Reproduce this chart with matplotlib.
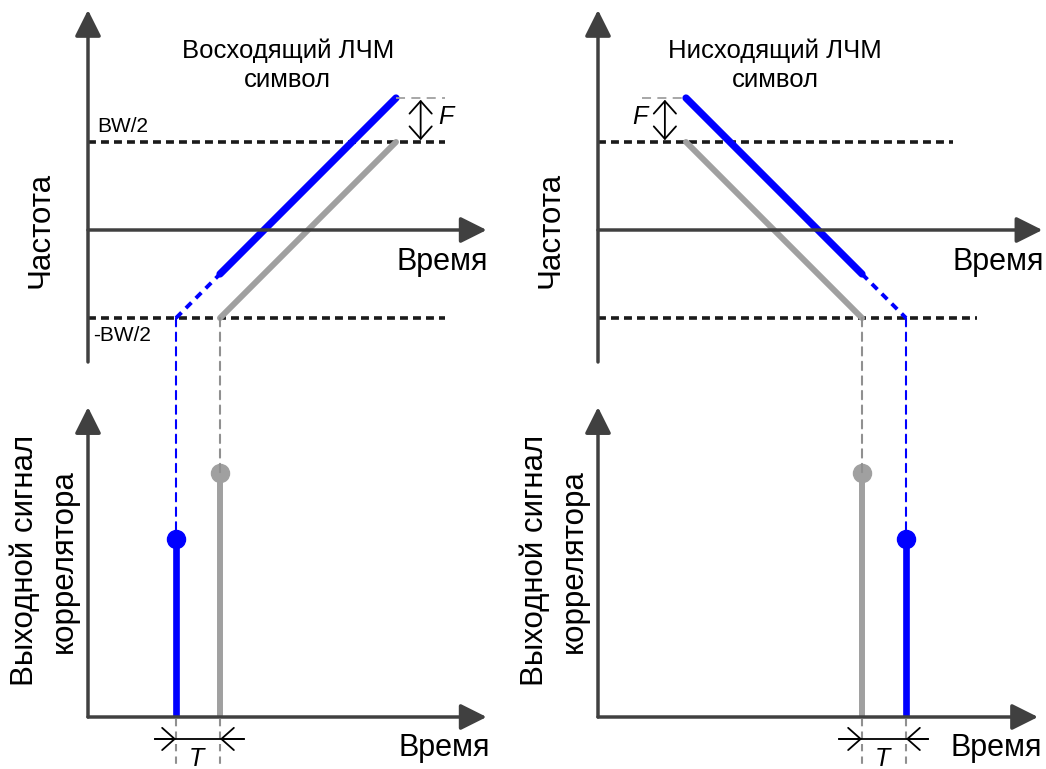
import numpy as np
import matplotlib
matplotlib.use('Agg')
import matplotlib.pyplot as plt
from matplotlib.patches import ConnectionPatch

plt.rcParams['font.family'] = ['Liberation Sans', 'DejaVu Sans']

# --- chirp parameters (time and frequency in the same units) ---
bw_half = 1.0          # BW/2
f_shift = 0.5          # frequency offset F
t_shift = 0.5          # resulting time offset T

# up-chirp: reference (gray) and received with offset (blue)
up_ref_t = [1.5, 3.5]
up_ref_f = [-1.0, 1.0]
up_rx_t = [1.5, 3.5]
up_rx_f = [-0.5, 1.5]
up_ext_t = [1.0, 1.5]          # dashed extension of the received chirp
up_ext_f = [-1.0, -0.5]

# down-chirp
dn_ref_t = [1.0, 3.0]
dn_ref_f = [1.0, -1.0]
dn_rx_t = [1.0, 3.0]
dn_rx_f = [1.5, -0.5]
dn_ext_t = [3.0, 3.5]
dn_ext_f = [-0.5, -1.0]

# correlator output peaks
up_peak_t = [1.0, 1.5]
up_peak_v = [0.73, 1.0]
dn_peak_t = [3.0, 3.5]
dn_peak_v = [1.0, 0.73]

BLUE = '#0000ff'
GRAY = '#a0a0a0'
AX = '#404040'

W, H = 1046, 769
PX = 88    # pixels per time / frequency unit
PK = 244   # pixels per correlator output unit

fig = plt.figure(figsize=(W / 100, H / 100), dpi=100)


def make_axes(x0, y0, sx, sy, xlim, ylim):
    left = x0 + xlim[0] * sx
    right = x0 + xlim[1] * sx
    top = y0 - ylim[1] * sy
    bottom = y0 - ylim[0] * sy
    ax = fig.add_axes([left / W, 1 - bottom / H, (right - left) / W, (bottom - top) / H])
    ax.set_xlim(xlim)
    ax.set_ylim(ylim)
    ax.axis('off')
    return ax


def axis_arrow(ax, start, tip):
    ax.annotate('', xy=tip, xytext=start,
                arrowprops=dict(arrowstyle='-|>,head_length=0.8,head_width=0.4',
                                mutation_scale=20, lw=2.5, color=AX,
                                shrinkA=0, shrinkB=0))


def dim_arrow(ax, start, tip, style='->'):
    ax.annotate('', xy=tip, xytext=start,
                arrowprops=dict(arrowstyle=style + ',head_length=0.45,head_width=0.4',
                                mutation_scale=20, lw=1.3, color='black',
                                shrinkA=0, shrinkB=0))


def freq_panel(x0, xmax, title, title_x, ref, rx, ext, bw_ends, f_x, f_line, f_label_x):
    ax = make_axes(x0, 230, PX, PX, (-0.7, xmax + 0.05), (-1.55, 2.6))
    # BW/2 levels
    ax.plot([0, bw_ends[0]], [bw_half, bw_half], color='#1a1a1a', lw=2.6,
            linestyle=(0, (2.2, 1.4)))
    ax.plot([0, bw_ends[1]], [-bw_half, -bw_half], color='#1a1a1a', lw=2.6,
            linestyle=(0, (2.2, 1.4)))
    # axes
    axis_arrow(ax, (0, -1.5), (0, 2.5))
    axis_arrow(ax, (0, 0), (xmax, 0))
    # chirps
    ax.plot(ref[0], ref[1], color=GRAY, lw=4.3, solid_capstyle='round')
    ax.plot(rx[0], rx[1], color=BLUE, lw=5.2, solid_capstyle='round')
    ax.plot(ext[0], ext[1], color=BLUE, lw=2.8, linestyle=(0, (2.0, 1.6)))
    # frequency offset F
    ax.plot(f_line, [bw_half + f_shift] * 2, color=GRAY, lw=1.3, linestyle=(0, (5, 3.5)))
    dim_arrow(ax, (f_x, bw_half + 0.02), (f_x, bw_half + f_shift - 0.02), style='<->')
    ax.text(f_label_x, 1.28, 'F', fontsize=18, style='italic', ha='center', va='center')
    ax.text(title_x, 1.875, title, fontsize=18.5, ha='center', va='center', linespacing=1.25)
    ax.text(xmax + 0.02, -0.36, 'Время', fontsize=22, ha='right', va='center')
    ax.text(-0.545, 0, 'Частота', fontsize=22.5, rotation=90, ha='center', va='center')
    return ax


def corr_panel(x0, xmax, peak_t, peak_v, colors, dim_x):
    ax = make_axes(x0, 717, PX, PK, (-0.7, xmax + 0.05), (-0.22, 1.3))
    axis_arrow(ax, (0, 0), (0, 1.27))
    axis_arrow(ax, (0, 0), (xmax, 0))
    for t, v, c in zip(peak_t, peak_v, colors):
        lw = 4.8 if c == BLUE else 4.3
        ax.plot([t, t], [0, v], color=c, lw=lw, solid_capstyle='butt')
        ax.plot([t], [v], 'o', color=c, markersize=13)
        ax.plot([t, t], [-0.01, -0.22], color='#909090', lw=1.5,
                linestyle=(0, (3.5, 2.5)), clip_on=False)
    # time offset T
    t0, t1 = peak_t
    ax.plot(dim_x, [-0.09, -0.09], color='black', lw=1.3)
    dim_arrow(ax, (dim_x[0], -0.09), (t0, -0.09))
    dim_arrow(ax, (dim_x[1], -0.09), (t1, -0.09))
    ax.text((t0 + t1) / 2 - 0.02, -0.172, 'T', fontsize=18, style='italic',
            ha='center', va='center')
    ax.text(xmax + 0.04, -0.127, 'Время', fontsize=22, ha='right', va='center')
    ax.text(-0.5, 0.64, 'Выходной сигнал\nкоррелятора', fontsize=22.5, rotation=90,
            ha='center', va='center', linespacing=1.4)
    return ax


ax_up = freq_panel(88, 4.53, 'Восходящий ЛЧМ\nсимвол', 2.27,
                   (up_ref_t, up_ref_f), (up_rx_t, up_rx_f), (up_ext_t, up_ext_f),
                   (4.06, 4.06), 3.78, [3.5, 4.06], 4.07)
ax_up.text(0.1, 1.18, 'BW/2', fontsize=15, ha='left', va='center')
ax_up.text(0.06, -1.2, '-BW/2', fontsize=15, ha='left', va='center')

ax_dn = freq_panel(598, 5.05, 'Нисходящий ЛЧМ\nсимвол', 2.01,
                   (dn_ref_t, dn_ref_f), (dn_rx_t, dn_rx_f), (dn_ext_t, dn_ext_f),
                   (4.03, 4.31), 0.76, [0.5, 1.0], 0.48)

ax_cu = corr_panel(88, 4.53, up_peak_t, up_peak_v, [BLUE, GRAY], [0.76, 1.77])
ax_cd = corr_panel(598, 5.0, dn_peak_t, dn_peak_v, [GRAY, BLUE], [2.74, 3.75])

# dashed links from the chirp start/end at -BW/2 down to the correlator peaks
for ax_top, ax_bot, ts, vs, cs in [(ax_up, ax_cu, up_peak_t, up_peak_v, [BLUE, GRAY]),
                                   (ax_dn, ax_cd, dn_peak_t, dn_peak_v, [GRAY, BLUE])]:
    for t, v, c in zip(ts, vs, cs):
        col = BLUE if c == BLUE else '#909090'
        con = ConnectionPatch(xyA=(t, -bw_half), coordsA=ax_top.transData,
                              xyB=(t, v), coordsB=ax_bot.transData,
                              color=col, lw=1.5, linestyle=(0, (4, 3)))
        fig.add_artist(con)

fig.savefig('out.png', dpi=100)
